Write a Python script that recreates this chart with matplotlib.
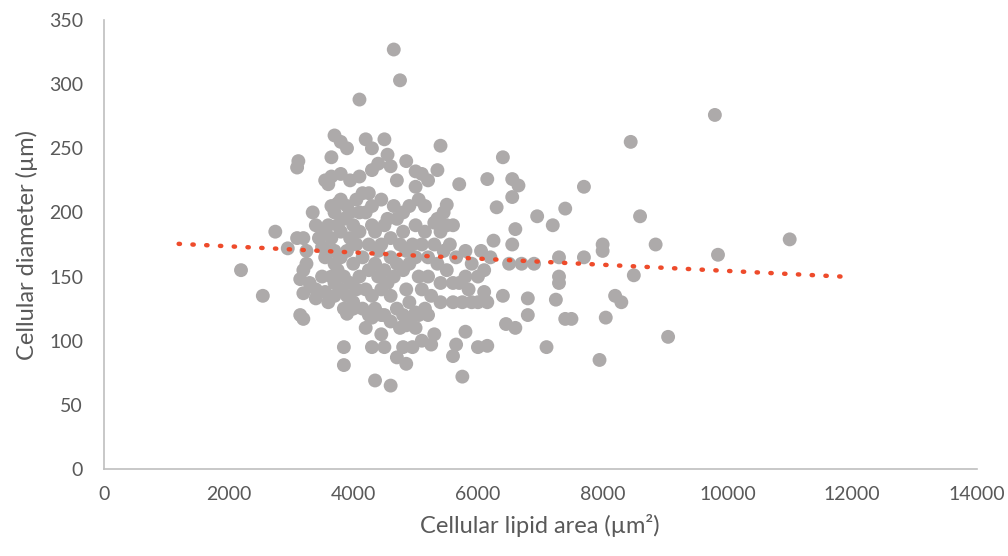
import numpy as np
import matplotlib.pyplot as plt

plt.rcParams['font.family'] = ['Lato', 'DejaVu Sans']

# cellular lipid area (um^2) and cellular diameter (um)
lipid_area = [
    2200, 2550, 2750, 2950, 3100, 3120, 3100, 3200, 3150, 3200,
    3150, 3200, 3250, 3200, 3350, 3400, 3400, 3500, 3550, 3600,
    3650, 3650, 3700, 3800, 3900, 3750, 3700, 3850, 3850, 3900,
    4100, 4200, 4300, 4500, 4300, 4400, 4600, 4650, 4750, 4300,
    4350, 4600, 4500, 4700, 4850, 4800, 4450, 4150, 4200, 5000,
    5100, 5200, 5350, 5000, 5400, 5500, 5450, 5300, 5700, 5800,
    5800, 5750, 5800, 5750, 5600, 5650, 6000, 6150, 6100, 6150,
    6200, 6150, 6300, 6250, 6400, 6550, 6550, 6650, 6600, 6400,
    6450, 6600, 6500, 6550, 6700, 6900, 6800, 6800, 6950, 7100,
    7200, 7300, 7300, 7250, 7400, 7500, 7400, 7300, 7700, 7700,
    7950, 8000, 8000, 8050, 8200, 8300, 8450, 8500, 8600, 8850,
    9050, 9800, 9850, 11000,
    3600, 3650, 3700, 3700, 3650, 3700, 3750, 3800, 3800, 3850,
    3900, 3950, 3900, 3850, 3800, 3900, 3950, 4000, 4050, 4000,
    4100, 4100, 4150, 4100, 4050, 4000, 4150, 4200, 4250, 4250,
    4300, 4300, 4350, 4400, 4350, 4400, 4300, 4350, 4250, 4450,
    4500, 4450, 4500, 4550, 4600, 4600, 4550, 4600, 4650, 4700,
    4750, 4700, 4800, 4800, 4850, 4800, 4850, 4900, 4800, 4750,
    4700, 4900, 4950, 5000, 5000, 5050, 5100, 5100, 5150, 5200,
    5200, 5250, 5150, 5300, 5350, 5400, 5400, 5450, 5500, 5500,
    5550, 5600, 5650, 5600, 4900, 5000, 5050, 4600, 4450, 3950,
    3800, 3650, 3750, 3600, 3550, 4050, 4250, 4450, 4650, 4900,
    5150, 5350, 3700, 3850, 4200, 4500, 5200, 5300, 5100, 4850,
    5400, 5600, 5700, 5850, 5900, 6000, 6050, 6100, 5900, 6000,
    4700, 4550, 4850, 5050, 3950, 4100, 3800, 3550, 3450, 3400,
    3500, 3550, 3600, 3300, 3250, 4000, 4300, 4950, 5250, 5000,
]

diameter = [
    155, 135, 185, 172, 235, 240, 180, 180, 120, 117,
    148, 155, 160, 137, 200, 140, 133, 173, 225, 222,
    243, 228, 260, 255, 250, 207, 200, 95, 81, 121,
    288, 257, 250, 257, 233, 238, 236, 327, 303, 95,
    69, 65, 95, 87, 82, 95, 105, 215, 200, 232,
    230, 225, 233, 220, 252, 206, 200, 192, 222, 170,
    150, 130, 107, 72, 88, 97, 95, 96, 138, 130,
    165, 226, 204, 178, 243, 226, 212, 221, 187, 135,
    113, 110, 160, 175, 160, 160, 133, 120, 197, 95,
    190, 150, 145, 132, 117, 117, 203, 165, 220, 165,
    85, 175, 170, 118, 135, 130, 255, 151, 197, 175,
    103, 276, 167, 179,
    190, 180, 170, 160, 150, 145, 155, 165, 185, 195,
    205, 180, 170, 150, 140, 135, 145, 160, 175, 190,
    200, 185, 165, 150, 140, 130, 125, 140, 155, 175,
    190, 205, 185, 170, 160, 150, 135, 125, 120, 140,
    155, 175, 190, 195, 180, 165, 145, 135, 150, 160,
    175, 195, 200, 185, 170, 155, 140, 130, 120, 110,
    125, 160, 175, 190, 165, 150, 140, 175, 185, 165,
    150, 135, 125, 175, 160, 145, 185, 170, 155, 190,
    175, 190, 165, 145, 115, 110, 120, 115, 120, 200,
    210, 205, 190, 170, 185, 210, 215, 210, 205, 205,
    205, 195, 135, 125, 110, 120, 120, 105, 100, 112,
    130, 130, 145, 140, 160, 150, 170, 155, 130, 130,
    225, 245, 240, 210, 225, 228, 230, 165, 180, 190,
    150, 138, 130, 145, 170, 125, 118, 95, 97, 122,
]

x = np.array(lipid_area)
y = np.array(diameter)

fig = plt.figure(figsize=(10.08, 5.56), dpi=100)
ax = fig.add_axes([0.103, 0.1565, 0.866, 0.8075])

ax.scatter(x, y, s=100, color='#ADAAAA', edgecolors='none', zorder=2)

# linear trendline, extended 1000 on each side like the original
k, b = np.polyfit(x, y, 1)
tx = np.array([x.min() - 1000, x.max() + 1000])
ax.plot(tx, k * tx + b, color='#EE4B2B', linewidth=3.2,
        linestyle=(0, (0.3, 2.8)), dash_capstyle='round', zorder=3)

ax.set_xlim(0, 14000)
ax.set_ylim(0, 350)
ax.set_xticks(np.arange(0, 14001, 2000))
ax.set_yticks(np.arange(0, 351, 50))
ax.tick_params(length=0, labelsize=14, colors='#595959')
ax.tick_params(axis='y', pad=15)
ax.tick_params(axis='x', pad=12)

for side in ['top', 'right']:
    ax.spines[side].set_visible(False)
for side in ['left', 'bottom']:
    ax.spines[side].set_color('#BFBFBF')
    ax.spines[side].set_linewidth(1.2)

ax.set_xlabel('Cellular lipid area (µm²)', fontsize=17, color='#595959', labelpad=8)
ax.set_ylabel('Cellular diameter (µm)', fontsize=17, color='#595959', labelpad=8)

fig.savefig('out.png', dpi=100)
